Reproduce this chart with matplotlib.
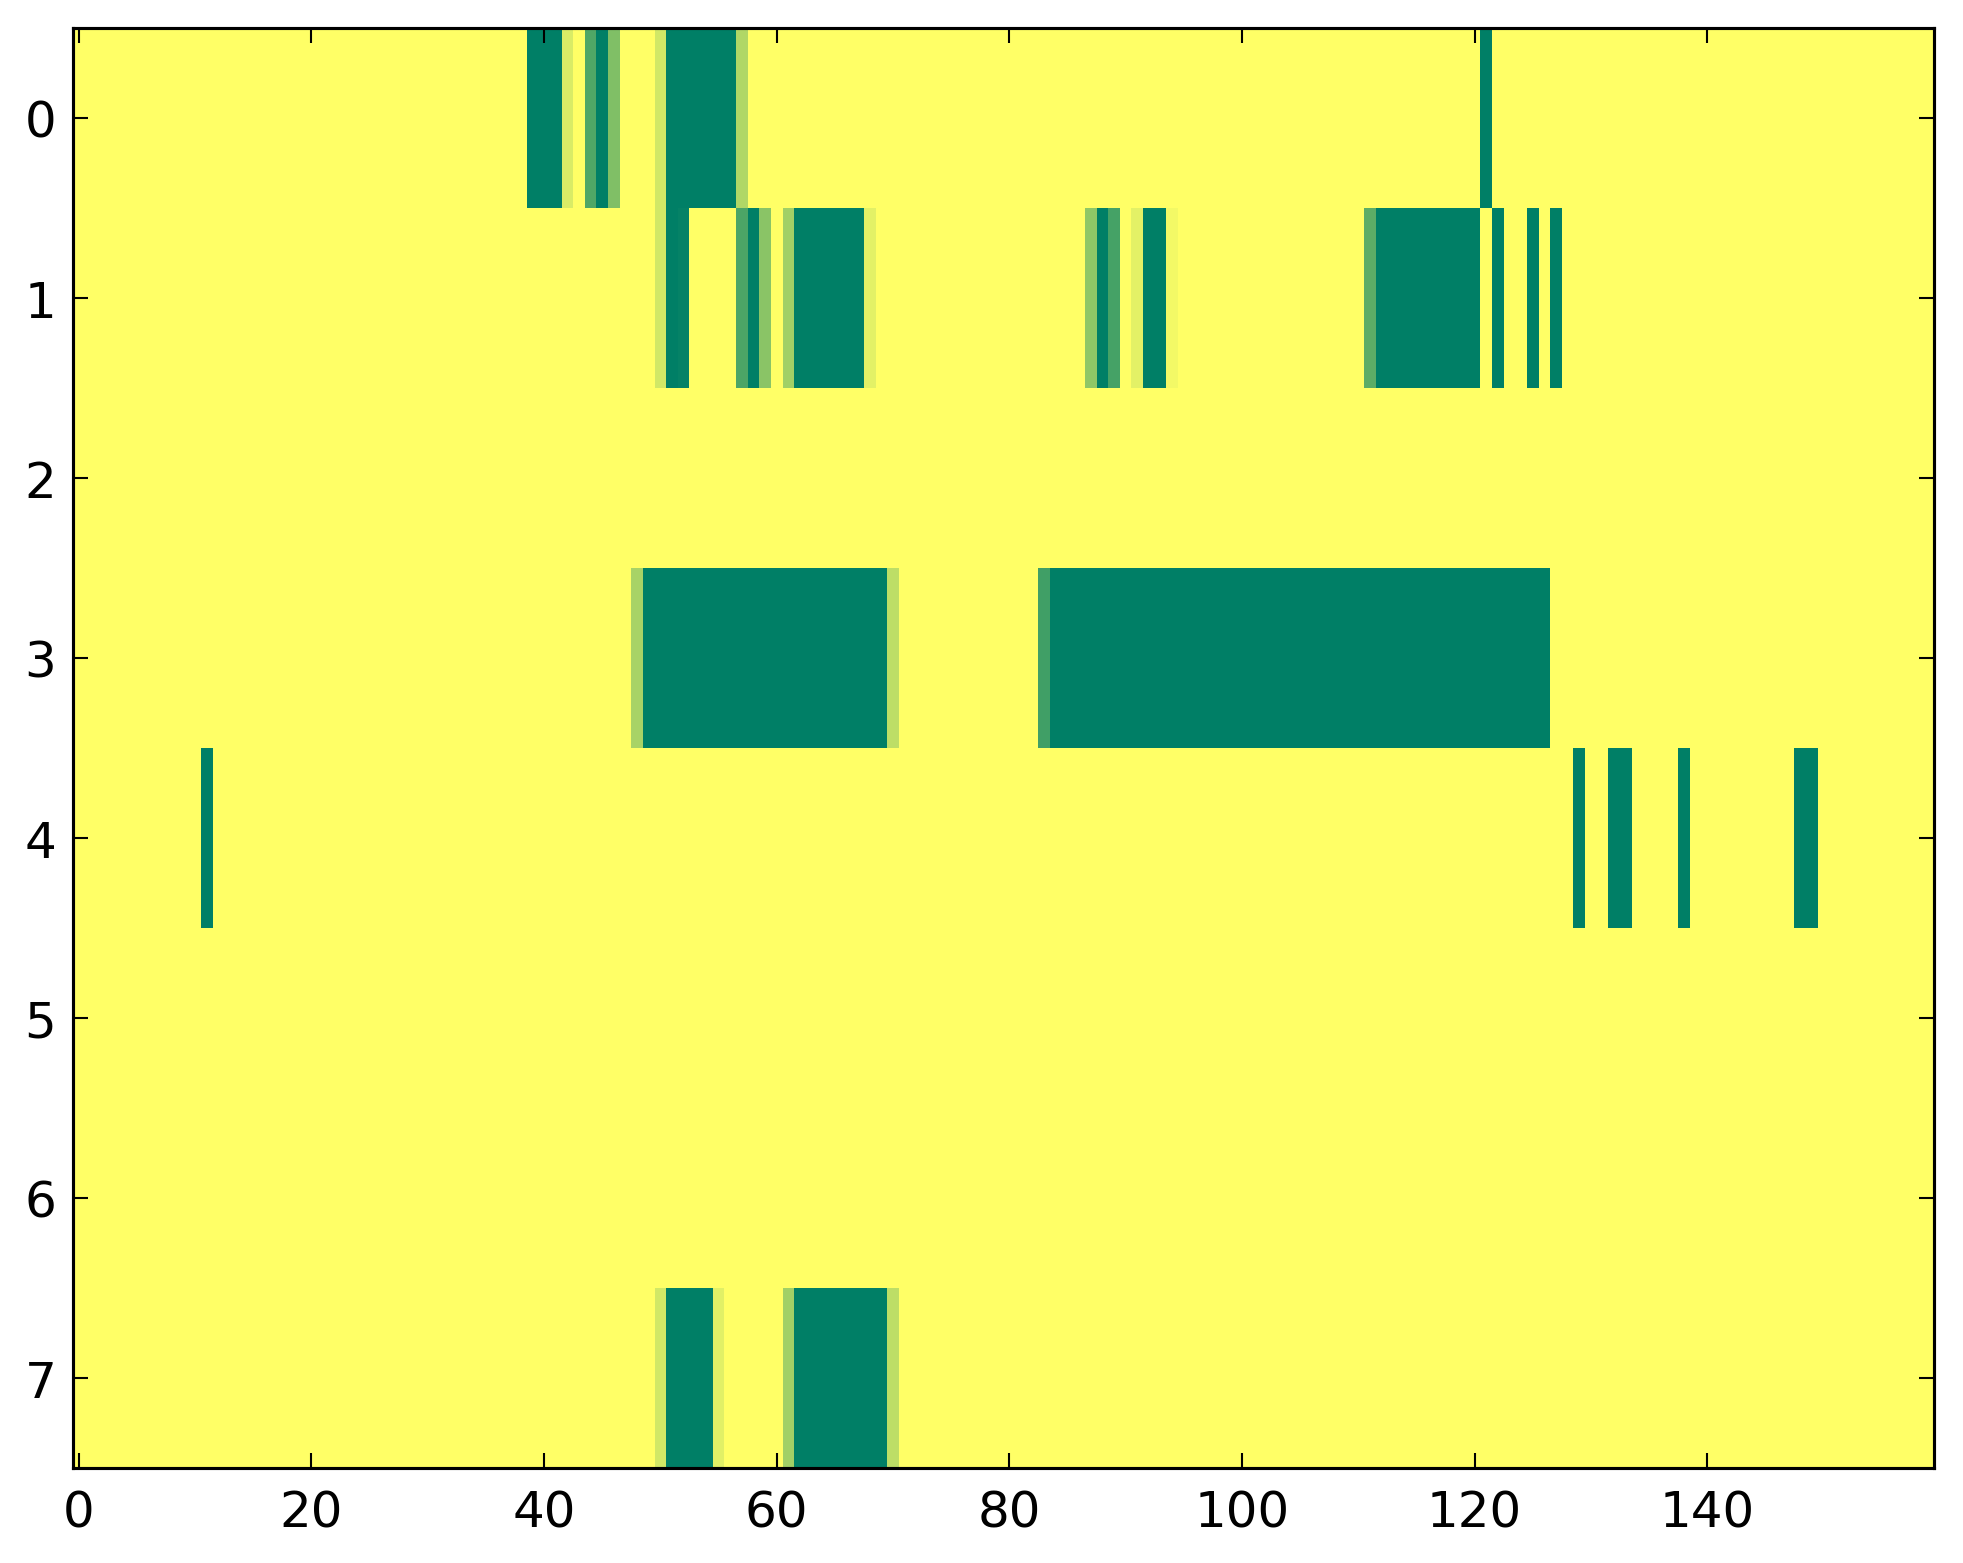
import numpy as np
import matplotlib
matplotlib.use('agg')
import matplotlib.pyplot as plt

# grid size
n_rows = 8
n_cols = 160

# non-background cells per row: (first_col, last_col, value); background is 1.0
row0 = [(39, 41, 0.0), (42, 42, 0.85), (44, 44, 0.31), (45, 45, 0.0), (46, 46, 0.50),
        (50, 50, 0.82), (51, 56, 0.0), (57, 57, 0.69), (121, 121, 0.0)]
row1 = [(50, 50, 0.82), (51, 51, 0.0), (52, 52, 0.02), (57, 57, 0.30), (58, 58, 0.0),
        (59, 59, 0.54), (61, 61, 0.63), (62, 67, 0.0), (68, 68, 0.89),
        (87, 87, 0.56), (88, 88, 0.0), (89, 89, 0.27), (91, 91, 0.89), (92, 93, 0.0),
        (94, 94, 0.95), (111, 111, 0.36), (112, 120, 0.0), (122, 122, 0.0),
        (125, 125, 0.0), (127, 127, 0.0)]
row2 = []
row3 = [(48, 48, 0.66), (49, 69, 0.0), (70, 70, 0.74), (83, 83, 0.25), (84, 126, 0.0)]
row4 = [(11, 11, 0.0), (129, 129, 0.0), (132, 133, 0.0), (138, 138, 0.0), (148, 149, 0.0)]
row5 = []
row6 = []
row7 = [(50, 50, 0.82), (51, 54, 0.0), (55, 55, 0.88), (61, 61, 0.63), (62, 69, 0.0),
        (70, 70, 0.74)]
rows = [row0, row1, row2, row3, row4, row5, row6, row7]

x_ticks = [0, 20, 40, 60, 80, 100, 120, 140]
y_ticks = [0, 1, 2, 3, 4, 5, 6, 7]

grid = np.ones((n_rows, n_cols))
for r, segs in enumerate(rows):
    for a, b, v in segs:
        grid[r, a:b + 1] = v

plt.rcParams['font.size'] = 12
fig = plt.figure(figsize=(1963 / 300, 1564 / 300), dpi=300, facecolor='white')
ax = fig.add_axes([73 / 1963, 1 - 1469 / 1564, (1934 - 73) / 1963, (1469 - 29) / 1564])
ax.imshow(grid, cmap='summer', vmin=0, vmax=1, aspect='auto', interpolation='nearest')
ax.set_xticks(x_ticks)
ax.set_yticks(y_ticks)
ax.set_xlim(-0.5, n_cols - 0.5)
ax.set_ylim(n_rows - 0.5, -0.5)
ax.tick_params(direction='in', top=True, right=True, length=3.6, width=0.5)
ax.tick_params(axis='x', pad=5)
ax.tick_params(axis='y', pad=4)
for s in ax.spines.values():
    s.set_linewidth(0.75)

plt.savefig('out.png', dpi=300, facecolor='white')
